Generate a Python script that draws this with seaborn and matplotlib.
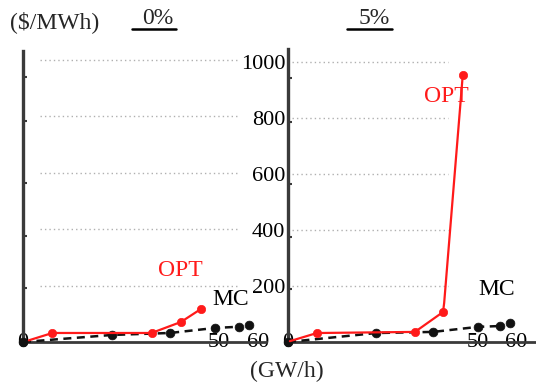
import numpy as np
import pandas as pd
import matplotlib
matplotlib.use("Agg")
import matplotlib.pyplot as plt
from matplotlib.lines import Line2D
import seaborn as sns

# ---- data ($/MWh vs GW/h) ----
opt0_x = [1.5, 7.5, 32.8, 40.3, 45.5]
opt0_y = [6, 32, 32, 71, 118]
mc0_x = [0, 22.7, 37.5, 49.1, 55.0, 57.6]
mc0_y = [0, 25, 32, 50, 54, 61]

opt5_x = [0.5, 7.6, 33.4, 40.8, 41.1, 46.0]
opt5_y = [3, 32, 36, 107, 140, 954]
mc5_x = [0, 23.2, 38.2, 50.0, 55.8, 58.4]
mc5_y = [0, 32, 36, 54, 57, 68]

panel_titles = ["0%", "5%"]
y_ticks = [200, 400, 600, 800, 1000]
x_ticks = [0, 50, 60]
side_marks = [190, 375, 565, 785, 940]

sns.set_theme(style="white")
plt.rcParams["font.family"] = ["Liberation Serif", "DejaVu Serif"]

W, H = 536, 385
fig = plt.figure(figsize=(W / 100, H / 100), dpi=100)
fig.patch.set_facecolor("white")

ax1 = fig.add_axes([23 / W, 43 / H, 243 / W, 291 / H])
ax2 = fig.add_axes([288 / W, 43 / H, 247 / W, 293 / H])

RED = "#ff1a1a"
INK = "#111111"
AXC = "#3a3a3a"


def draw_panel(ax, ox, oy, opt_marked, mx, my, xmax, ytop, grid_span,
               show_ylabels, opt_xy, mc_xy):
    ax.set_facecolor("white")
    ax.set_xlim(0, xmax)
    ax.set_ylim(0, ytop)
    ax.hlines(y_ticks, grid_span[0], grid_span[1], colors="#b0b0b0",
              linestyles=(0, (1, 2.2)), linewidth=1.0, zorder=1)
    # MC: dashed curve, isolated last point
    n = len(mx)
    sns.lineplot(x=mx[:n - 1], y=my[:n - 1], ax=ax, color=INK, linewidth=1.8,
                 linestyle=(0, (3.2, 2.2)), sort=False, clip_on=False, zorder=3)
    sns.scatterplot(x=mx, y=my, ax=ax, color=INK, s=40, edgecolor=INK,
                    linewidth=0.5, clip_on=False, zorder=4)
    # OPT: solid curve, markers on the sampled points
    sns.lineplot(x=ox, y=oy, ax=ax, color=RED, linewidth=1.6, sort=False,
                 clip_on=False, zorder=5)
    sns.scatterplot(x=[ox[i] for i in opt_marked], y=[oy[i] for i in opt_marked],
                    ax=ax, color=RED, s=36, edgecolor=RED, linewidth=0.5,
                    clip_on=False, zorder=6)
    ax.text(opt_xy[0], opt_xy[1], "OPT", color=RED, fontsize=17,
            ha="center", va="center", zorder=7)
    ax.text(mc_xy[0], mc_xy[1], "MC", color="black", fontsize=17,
            ha="center", va="center", zorder=7)

    for s in ["top", "right"]:
        ax.spines[s].set_visible(False)
    ax.spines["left"].set_color(AXC)
    ax.spines["left"].set_linewidth(2.4)
    ax.spines["bottom"].set_color(AXC)
    ax.spines["bottom"].set_linewidth(2.0)
    ax.spines["left"].set_zorder(2)
    ax.spines["bottom"].set_zorder(2)

    ax.set_xticks(x_ticks)
    ax.set_xticklabels([str(v) for v in x_ticks])
    ax.tick_params(axis="x", length=0, pad=-6.5, labelsize=16, labelcolor="black")
    ax.set_yticks(y_ticks)
    if show_ylabels:
        ax.set_yticklabels([str(v) for v in y_ticks])
    else:
        ax.set_yticklabels([])
    ax.tick_params(axis="y", length=0, pad=2, labelsize=16, labelcolor="black")
    ax.set_yticks(side_marks, minor=True)
    ax.tick_params(axis="y", which="minor", direction="in", length=3,
                   width=1.5, color=AXC, left=True)
    ax.grid(False)
    ax.set_xlabel("")
    ax.set_ylabel("")


draw_panel(ax1, opt0_x, opt0_y, [1, 2, 3, 4], mc0_x, mc0_y, 62.0, 1032,
           (4.3, 55.4), False, (40.1, 255), (53.1, 150))
draw_panel(ax2, opt5_x, opt5_y, [1, 2, 3, 5], mc5_x, mc5_y, 65.0, 1045,
           (1.0, 42.1), True, (41.8, 875), (55.0, 186))

# headers
fig.text(55 / W, 1 - 22 / H, "($/MWh)", fontsize=17, ha="center", va="center")
title_pos = [(158, 132, 176), (374, 347, 392)]
for t, (cx, u0, u1) in zip(panel_titles, title_pos):
    fig.text(cx / W, 1 - 18 / H, t, fontsize=17, ha="center", va="center")
    fig.add_artist(Line2D([u0 / W, u1 / W], [1 - 28.5 / H, 1 - 28.5 / H],
                          color="black", linewidth=1.8,
                          transform=fig.transFigure))
fig.text(287 / W, 1 - 371 / H, "(GW/h)", fontsize=17, ha="center", va="center")

fig.savefig("out.png", dpi=100, facecolor="white")
